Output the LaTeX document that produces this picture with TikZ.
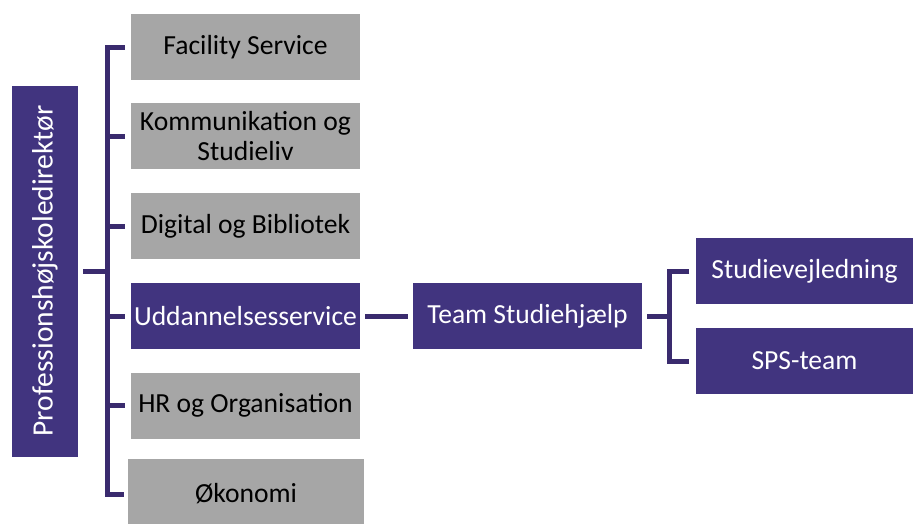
\documentclass[tikz,border=0pt]{standalone}
\usepackage{fontspec}
\setmainfont{Carlito}
\definecolor{boite}{HTML}{41347F}
\definecolor{trait}{HTML}{3A2B6E}
\definecolor{grisboite}{HTML}{A6A6A6}
\tikzset{
  unite/.style={rectangle, fill=grisboite, minimum width=229pt, minimum height=66pt,
    inner sep=0pt, align=center, font=\fontsize{27.6}{30}\selectfont},
  unitev/.style={unite, fill=boite, text=white},
  lien/.style={draw=trait, line width=5pt},
}
\begin{document}
\begin{tikzpicture}[x=1pt,y=-1pt]
\clip (0,0) rectangle (913,523); %% le cadre de l'image

%% la direction, à gauche
\node[unitev, rotate=90, minimum width=371pt, minimum height=66pt,
  font=\fontsize{29.5}{32}\selectfont] (dir) at (45,271) {Professionshøjskoledirektør};

%% les services
\node[unite] (fac) at (245.5,47) {Facility Service};
\node[unite] (kom) at (245.5,136) {Kommunikation og\\Studieliv};
\node[unite] (dig) at (245.5,226) {Digital og Bibliotek};
\node[unitev] (udd) at (245.5,316) {Uddannelsesservice};
\node[unite] (hr) at (245.5,405.5) {HR og Organisation};
\node[unite, minimum width=236pt, minimum height=70pt] (oko) at (246,494) {Økonomi};

%% l'équipe et ses deux sous-équipes
\node[unitev] (team) at (527.5,316) {Team Studiehjælp};
\node[unitev, minimum width=218pt] (stud) at (804.5,271) {Studievejledning};
\node[unitev, minimum width=218pt] (sps) at (804.5,361) {SPS-team};

%% les traits
\coordinate (bus) at (107,270);
\draw[lien, shorten <=5pt] (dir.south) -- (dir.south -| bus);
\draw[lien, shorten <=6pt, shorten >=4pt] (fac.west) -| (bus) |- (oko.west);
\foreach \b in {kom,dig,udd,hr}
  \draw[lien, shorten >=6pt] (bus |- \b.west) -- (\b.west);

\draw[lien, shorten <=5pt, shorten >=5pt] (udd.east) -- (team.west);

\coordinate (bus2) at (669,316);
\draw[lien, shorten <=5pt] (team.east) -- (bus2);
\draw[lien, shorten <=6pt, shorten >=6pt] (stud.west) -| (bus2) |- (sps.west);

\end{tikzpicture}
\end{document}
